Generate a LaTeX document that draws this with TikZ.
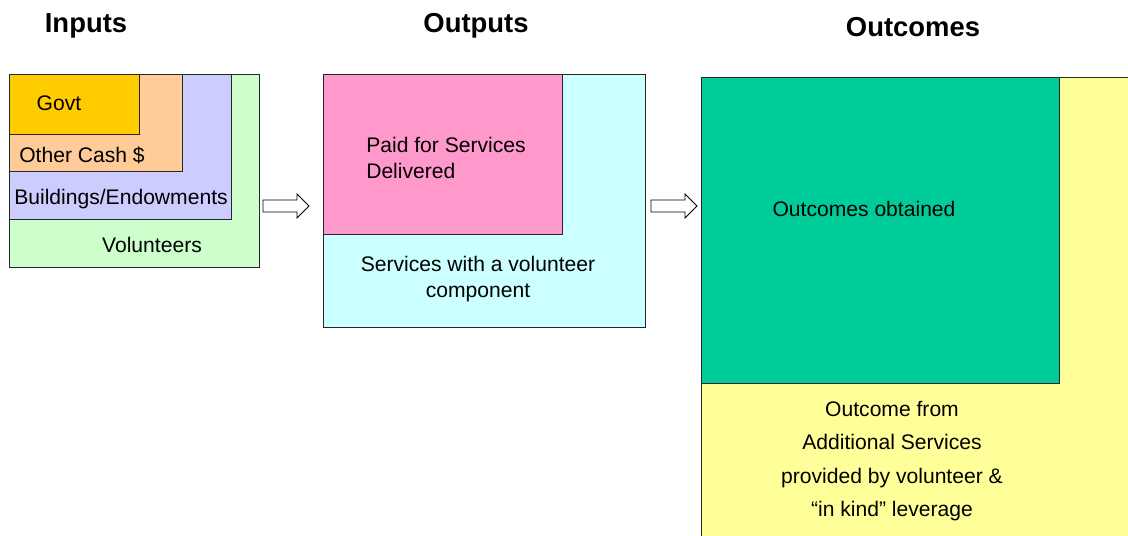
\documentclass[tikz,border=0pt]{standalone}
\usepackage{fontspec}
\setmainfont{Liberation Sans}
\definecolor{govtgold}{HTML}{FFCC00}
\definecolor{cashpeach}{HTML}{FFCC99}
\definecolor{bldblue}{HTML}{CCCCFF}
\definecolor{volgreen}{HTML}{CCFFCC}
\definecolor{paidpink}{HTML}{FF99CC}
\definecolor{servcyan}{HTML}{CCFFFF}
\definecolor{outgreen}{HTML}{00CC99}
\definecolor{addyellow}{HTML}{FFFF99}
\begin{document}
\begin{tikzpicture}[x=0.025cm,y=-0.025cm,
    box/.style={draw=black!85, line width=0.6pt},
    lbl/.style={font=\fontsize{15}{18.4}\selectfont, inner sep=0pt},
    ttl/.style={font=\fontsize{19.5}{22}\selectfont\bfseries, inner sep=0pt, anchor=base},
    flow/.style={draw=black, fill=white, line width=0.6pt, line join=miter}]
    \clip (0,0) rectangle (1128,535);

    % Titles
    \node[ttl] (inputs) at (86,32) {Inputs};
    \node[ttl] (outputs) at (476,32) {Outputs};
    \node[ttl] (outcomes) at (913,36) {Outcomes};

    % Nested input boxes
    \foreach \w/\h/\col in {259/267/volgreen, 231/219/bldblue, 182/171/cashpeach, 139/134/govtgold} {
        \draw[box, fill=\col] (9,74) rectangle (\w,\h);
    }
    \node[lbl] (govt) at (59,103) {Govt};
    \node[lbl] (cash) at (82,155) {Other Cash \$};
    \node[lbl] (bld) at (121,199) {Buildings/Endowments};
    \node[lbl] (vol) at (152,245) {Volunteers};

    % Output boxes
    \draw[box, fill=servcyan] (323,74) rectangle (645,327);
    \draw[box, fill=paidpink] (323,74) rectangle (562,234);
    \node[lbl, anchor=west, align=left] (paid) at (366,158) {Paid for Services\\Delivered};
    \node[lbl, align=center] (serv) at (478,279) {Services with a volunteer\\component};

    % Outcome boxes
    \draw[box, fill=addyellow] (701,77) rectangle (1140,545);
    \draw[box, fill=outgreen] (701,77) rectangle (1059,383);
    \node[lbl] (obt) at (864,209) {Outcomes obtained};
    \node[lbl, align=center, font=\fontsize{15}{23.8}\selectfont] (add) at (892,464)
        {Outcome from\\Additional Services\\provided by volunteer \&\\\strut``in kind'' leverage};

    % Block arrows between the stages
    \coordinate (arr1) at (263,206);
    \coordinate (arr2) at (651,206);
    \foreach \a in {arr1, arr2} {
        \draw[flow] (\a) ++(0,-6) -- ++(34,0) -- ++(0,-6) -- ++(12,12)
            -- ++(-12,12) -- ++(0,-6) -- ++(-34,0) -- cycle;
    }
\end{tikzpicture}
\end{document}
